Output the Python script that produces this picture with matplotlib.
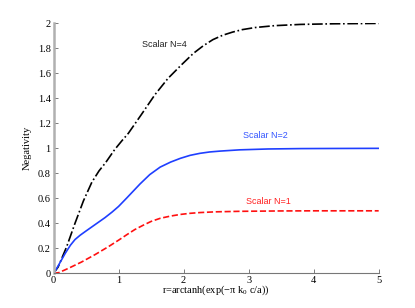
import matplotlib
matplotlib.use("Agg")
import matplotlib.pyplot as plt

plt.rcParams['font.family'] = 'Liberation Serif'
plt.rcParams['mathtext.fontset'] = 'custom'
plt.rcParams['mathtext.rm'] = 'Liberation Serif'
plt.rcParams['mathtext.it'] = 'Liberation Serif'

# Scalar N=4 (black dash-dot)
x_n4 = [0, 0.07, 0.2, 0.33, 0.46, 0.59, 0.7, 0.8, 0.94, 1.05, 1.15, 1.35,
        1.56, 1.76, 1.97, 2.15, 2.3, 2.45, 2.6, 2.75, 2.9, 3.1, 3.4, 3.8,
        4.3, 5.0]
y_n4 = [0, 0.05, 0.21, 0.4, 0.58, 0.73, 0.82, 0.885, 0.99, 1.06, 1.12, 1.27,
        1.43, 1.56, 1.67, 1.76, 1.82, 1.87, 1.905, 1.93, 1.95, 1.967, 1.982,
        1.992, 1.997, 2.0]

# Scalar N=2 (blue solid)
x_n2 = [0, 0.05, 0.18, 0.26, 0.33, 0.41, 0.49, 0.64, 0.79, 0.9, 1.0, 1.13,
        1.23, 1.33, 1.48, 1.64, 1.8, 1.95, 2.1, 2.25, 2.4, 2.56, 2.86, 3.3,
        3.8, 4.3, 5.0]
y_n2 = [0, 0.04, 0.16, 0.225, 0.27, 0.305, 0.335, 0.39, 0.445, 0.49, 0.535,
        0.605, 0.66, 0.715, 0.79, 0.85, 0.89, 0.92, 0.944, 0.96, 0.971, 0.978,
        0.988, 0.995, 0.998, 0.999, 1.0]

# Scalar N=1 (red dashed)
x_n1 = [0, 0.08, 0.23, 0.43, 0.64, 0.85, 1.0, 1.13, 1.25, 1.38, 1.5, 1.64,
        1.8, 1.95, 2.1, 2.25, 2.5, 2.86, 3.5, 4.0, 5.0]
y_n1 = [0, 0.005, 0.04, 0.09, 0.15, 0.215, 0.265, 0.31, 0.35, 0.385, 0.415,
        0.44, 0.458, 0.471, 0.48, 0.486, 0.492, 0.496, 0.499, 0.5, 0.5]

xticks = [0, 1, 2, 3, 4, 5]
yticks = [0, 0.2, 0.4, 0.6, 0.8, 1, 1.2, 1.4, 1.6, 1.8, 2]
ytick_labels = ['0', '0.2', '0.4', '0.6', '0.8', '1', '1.2', '1.4', '1.6', '1.8', '2']

fig = plt.figure(figsize=(4.15, 3.08), dpi=100)
ax = fig.add_axes([0.129, 0.1127, 0.7835, 0.8113])

ax.plot(x_n4, y_n4, color='black', linestyle='-.', linewidth=1.2)
ax.plot(x_n2, y_n2, color='#1f3fff', linestyle='-', linewidth=1.2)
ax.plot(x_n1, y_n1, color='#ff1010', linestyle='--', linewidth=1.2)

ax.text(1.7, 1.83, 'Scalar N=4', family='Liberation Sans', fontsize=6.5,
        color='#222222', ha='center', va='center')
ax.text(3.25, 1.106, 'Scalar N=2', family='Liberation Sans', fontsize=6.5,
        color='#3355ff', ha='center', va='center')
ax.text(3.3, 0.578, 'Scalar N=1', family='Liberation Sans', fontsize=6.5,
        color='#ff2020', ha='center', va='center')

ax.set_xlim(0, 5)
ax.set_ylim(0, 2)
ax.set_xticks(xticks)
ax.set_yticks(yticks)
ax.set_yticklabels(ytick_labels)
ax.tick_params(direction='in', length=3, width=0.6, labelsize=7.5, pad=2,
               color='#666666')

ax.spines['top'].set_visible(False)
ax.spines['right'].set_visible(False)
ax.spines['left'].set_color('#b0b0b0')
ax.spines['left'].set_linewidth(1.8)
ax.spines['bottom'].set_color('#777777')
ax.spines['bottom'].set_linewidth(0.8)

ax.set_xlabel(r'r=arctanh(exp($-$π k$_0$ c/a))', fontsize=7.5, labelpad=-1)
ax.set_ylabel('Negativity', fontsize=7.5, labelpad=4)

fig.savefig('out.png', dpi=100)
